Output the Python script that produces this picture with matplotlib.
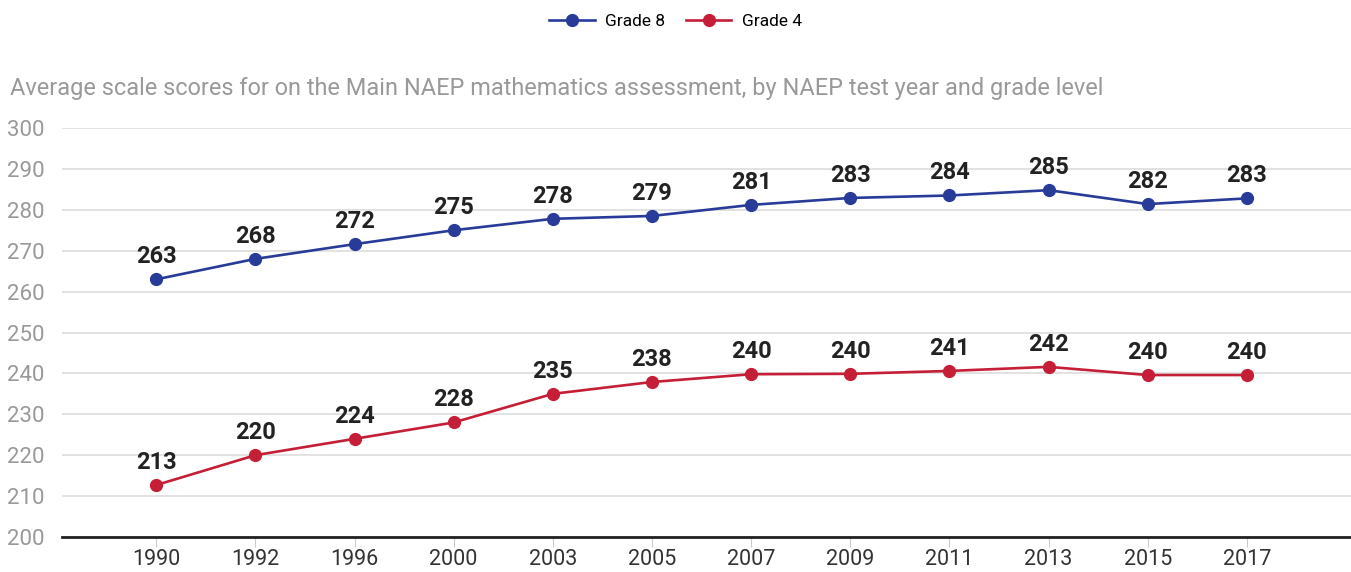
import numpy as np
import matplotlib
matplotlib.use("Agg")
import matplotlib.pyplot as plt

years = ["1990", "1992", "1996", "2000", "2003", "2005", "2007", "2009", "2011", "2013", "2015", "2017"]
grade8 = [263.0, 268.0, 271.6, 275.0, 277.8, 278.5, 281.2, 282.9, 283.5, 284.8, 281.4, 282.8]
grade4 = [212.7, 220.0, 224.0, 228.0, 235.0, 237.9, 239.8, 239.9, 240.6, 241.6, 239.6, 239.6]
labels8 = ["263", "268", "272", "275", "278", "279", "281", "283", "284", "285", "282", "283"]
labels4 = ["213", "220", "224", "228", "235", "238", "240", "240", "241", "242", "240", "240"]

plt.rcParams['font.family'] = ['Roboto', 'DejaVu Sans']

blue = '#283b99'
red = '#c41f36'

fig = plt.figure(figsize=(13.51, 5.72), dpi=100)
ax = fig.add_axes([0.0459, 0.0612, 0.9541, 0.715])
x = np.arange(len(years))

ax.plot(x, grade8, color=blue, lw=1.9, marker='o', ms=8.5, label='Grade 8', zorder=3)
ax.plot(x, grade4, color=red, lw=1.9, marker='o', ms=8.5, label='Grade 4', zorder=3)

for xi, v, t in zip(x, grade8, labels8):
    ax.annotate(t, (xi, v), xytext=(0, 8), textcoords='offset points', ha='center', va='bottom',
                fontsize=17, fontweight='bold', color='#222222')
for xi, v, t in zip(x, grade4, labels4):
    ax.annotate(t, (xi, v), xytext=(0, 8), textcoords='offset points', ha='center', va='bottom',
                fontsize=17, fontweight='bold', color='#222222')

ax.set_xlim(-0.95, 12.05)
ax.set_ylim(200, 300)
ax.set_yticks(np.arange(200, 301, 10))
ax.set_xticks(x)
ax.set_xticklabels(years)
ax.grid(axis='y', color='#dddddd', lw=1.2)
ax.set_axisbelow(True)
for s in ['top', 'right', 'left']:
    ax.spines[s].set_visible(False)
ax.spines['bottom'].set_color('#222222')
ax.spines['bottom'].set_linewidth(2)
ax.tick_params(axis='x', length=7, color='#cccccc', labelsize=15.5, labelcolor='#333333', pad=2)
ax.tick_params(axis='y', length=0, labelsize=16, labelcolor='#999999', pad=2)
for lab in ax.get_yticklabels():
    lab.set_horizontalalignment('left')
    lab.set_x(-0.0405)

fig.text(0.0074, 0.846, "Average scale scores for on the Main NAEP mathematics assessment, by NAEP test year and grade level",
         fontsize=16.9, color='#999999', va='center', ha='left')

fig.legend(loc='center', bbox_to_anchor=(0.5, 0.963), ncol=2, frameon=False, fontsize=12.5,
           handlelength=2.6, columnspacing=1.2, handletextpad=0.6)

fig.savefig('out.png', dpi=100)
